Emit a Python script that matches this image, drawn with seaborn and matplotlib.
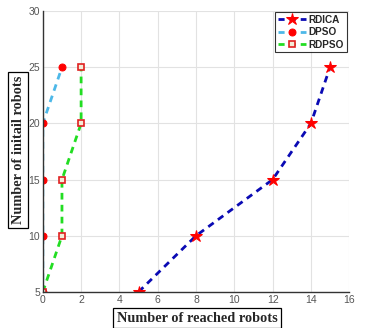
import pandas as pd
import seaborn as sns
import matplotlib.pyplot as plt

# --- Datos ---
initial_robots = [5, 10, 15, 20, 25]
rdica_reached = [5, 8, 12, 14, 15]
dpso_reached = [0, 0, 0, 0, 1]
rdpso_reached = [0, 1, 1, 2, 2]

x_ticks = [0, 2, 4, 6, 8, 10, 12, 14, 16]
y_ticks = [5, 10, 15, 20, 25, 30]

sns.set_style("white")
plt.rcParams['font.family'] = ['Liberation Sans', 'DejaVu Sans']

fig = plt.figure(figsize=(3.66, 3.28), dpi=100)
ax = fig.add_axes([0.117, 0.11, 0.837, 0.856])

series = [
    ("RDICA", rdica_reached, "#0a0ab4", dict(marker="*", markersize=9, markerfacecolor="red", markeredgecolor="red")),
    ("DPSO", dpso_reached, "#4db8e8", dict(marker="o", markersize=5, markerfacecolor="red", markeredgecolor="red")),
    ("RDPSO", rdpso_reached, "#22dd22", dict(marker="s", markersize=5, markerfacecolor="#f4ecd8", markeredgecolor="#e02020", markeredgewidth=1.2)),
]

for name, xs, color, mk in series:
    df = pd.DataFrame({"reached": xs, "initial": initial_robots})
    sns.lineplot(data=df, x="reached", y="initial", ax=ax, sort=False, estimator=None,
                 color=color, linewidth=2.0, label=name, **mk)

# líneas discontinuas (seaborn pisa el linestyle)
for ln in ax.lines:
    ln.set_linestyle("--")
    ln.set_dashes([2.4, 1.9])
    ln.set_dash_capstyle("butt")

ax.set_xlim(0, 16)
ax.set_ylim(5, 30)
ax.set_xticks(x_ticks)
ax.set_yticks(y_ticks)
ax.tick_params(axis="both", labelsize=7.5, colors="#333333", length=2, direction="in", pad=2)
for lbl in ax.get_xticklabels() + ax.get_yticklabels():
    lbl.set_color("#555555")
ax.grid(True, color="#e2e2e2", linewidth=0.8)
ax.set_axisbelow(True)
for s in ["top", "right"]:
    ax.spines[s].set_visible(False)
for s in ["left", "bottom"]:
    ax.spines[s].set_color("#333333")
    ax.spines[s].set_linewidth(1.0)

ax.set_xlabel("")
ax.set_ylabel("")
box = dict(boxstyle="square,pad=0.25", fc="white", ec="black", lw=0.9)
fig.text(0.538, 0.03, "Number of reached robots", ha="center", va="center",
         family=["Liberation Serif"], fontweight="bold", fontsize=10.3, bbox=box)
fig.text(0.05, 0.543, "Number of initail robots", ha="center", va="center", rotation=90,
         family=["Liberation Serif"], fontweight="bold", fontsize=10.3, bbox=box)

leg = ax.legend(loc="upper right", bbox_to_anchor=(0.995, 1.0), fontsize=7.2, frameon=True,
                fancybox=False, edgecolor="black", handlelength=2.8, handletextpad=0.3,
                borderpad=0.25, labelspacing=0.25, borderaxespad=0.1)
for t in leg.get_texts():
    t.set_fontweight("bold")
for h in leg.legend_handles:
    h.set_linestyle("--")
    h.set_dashes([2.2, 1.8])
leg.get_frame().set_linewidth(0.8)

fig.savefig("out.png", dpi=100)
